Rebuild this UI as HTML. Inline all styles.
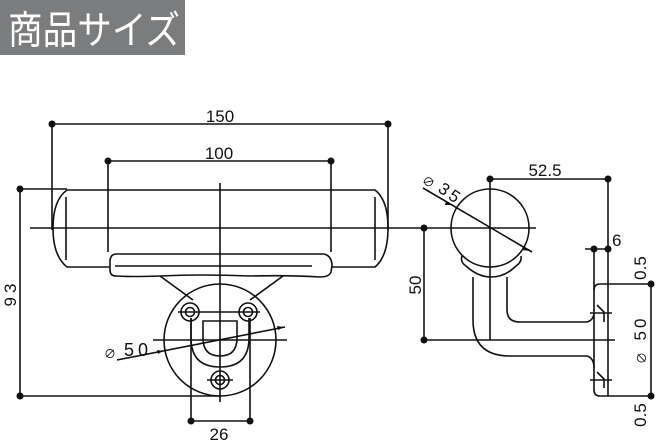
<!DOCTYPE html>
<html><head><meta charset="utf-8"><style>
html,body{margin:0;padding:0;background:#fff;}
svg{display:block;}
text{font-family:"Liberation Sans","Noto Sans CJK JP",sans-serif;fill:#111;}
</style></head><body>
<svg width="656" height="443" viewBox="0 0 656 443" xmlns="http://www.w3.org/2000/svg">
<rect x="0" y="0" width="185" height="55" fill="#7b7c7e"/>
<text x="8" y="44" font-size="39" fill="#fff" style="fill:#fff" textLength="172" lengthAdjust="spacingAndGlyphs">商品サイズ</text>

<g stroke="#111" stroke-width="1.6" fill="none">
<line x1="52" y1="124" x2="388" y2="124"/>
<line x1="52" y1="124" x2="52" y2="230"/>
<line x1="388" y1="124" x2="388" y2="230"/>
<line x1="108" y1="161" x2="331" y2="161"/>
<line x1="108" y1="161" x2="108" y2="252"/>
<line x1="331" y1="161" x2="331" y2="252"/>
<path d="M67 190 L375 190 Q388 200 388 228 Q388 256 375 267 L331 267 M110 267 L67 267 Q53 256 53 228 Q53 200 67 190"/>
<line x1="66" y1="197" x2="66" y2="260"/>
<line x1="375" y1="197" x2="375" y2="260"/>
<line x1="30" y1="228" x2="400" y2="228"/>
<line x1="220" y1="183" x2="220" y2="340"/>
<line x1="220" y1="340" x2="220" y2="402"/>
<line x1="20" y1="189" x2="20" y2="396"/>
<line x1="20" y1="189" x2="67" y2="189"/>
<line x1="20" y1="396" x2="220" y2="396"/>
<path d="M116 254 L324 254 Q332 256 332 266 L331 272 Q329 277 320 277 Q290 275 250 276 Q200 274 160 276 Q130 277 116 276 Q110 276 110 270 L110 260 Q111 254 116 254 Z"/>
<line x1="115" y1="266" x2="312" y2="266"/>
<path d="M160 276 L193 300 M283 276 L250 300"/>
<circle cx="220" cy="340" r="56"/>
<circle cx="190" cy="312" r="9"/><circle cx="190" cy="312" r="4.5"/>
<circle cx="248" cy="312" r="9"/><circle cx="248" cy="312" r="4.5"/>
<circle cx="220" cy="380" r="9"/><circle cx="220" cy="380" r="4.5"/>
<line x1="178" y1="312" x2="260" y2="312"/>
<line x1="207" y1="380" x2="233" y2="380"/>
<path d="M191 318 L191 338 Q191 367 220 367 Q249 367 249 338 L249 318"/>
<path d="M203 321 L203 338 Q203 356 220 356 Q237 356 237 338 L237 321 Z"/>
<line x1="153" y1="340" x2="287" y2="340"/>
<line x1="117" y1="360" x2="285" y2="327"/>
<line x1="191" y1="318" x2="191" y2="421"/>
<line x1="250" y1="318" x2="250" y2="421"/>
<line x1="191" y1="421" x2="250" y2="421"/>

<circle cx="490" cy="228" r="39"/>
<path d="M462 256 Q460 262 466 266 Q478 277 491 277 Q505 277 516 266 Q522 262 521 256"/>
<line x1="490" y1="178" x2="490" y2="340"/>
<line x1="400" y1="228" x2="536" y2="228"/>
<line x1="490" y1="179" x2="608" y2="179"/>
<line x1="608" y1="179" x2="608" y2="396"/>
<line x1="585" y1="249" x2="608" y2="249"/>
<line x1="594" y1="249" x2="594" y2="290"/>
<line x1="424" y1="228" x2="424" y2="340"/>
<line x1="424" y1="340" x2="615" y2="340"/>
<path d="M473 277 L473 320 Q473 356 510 356 L587 356 Q594 358 594 368"/>
<path d="M507 277 L507 310 Q507 322 520 322 L587 322 Q594 320 594 312"/>
<path d="M600 284 L652 284 M600 396 L652 396 M600 284 Q594 284 594 290 L594 390 Q594 396 600 396"/>
<line x1="651" y1="284" x2="651" y2="396"/>
<path d="M597 305 L604 312 L604 322 M597 372 L604 379 L604 388"/>
<line x1="590" y1="313" x2="612" y2="313"/>
<line x1="590" y1="380" x2="612" y2="380"/>
<line x1="423" y1="188" x2="532" y2="252"/>
</g>
<g fill="#111">
<circle cx="52" cy="124" r="3.5"/><circle cx="388" cy="124" r="3.5"/>
<circle cx="108" cy="161" r="3.5"/><circle cx="331" cy="161" r="3.5"/>
<circle cx="20" cy="189" r="3.5"/><circle cx="20" cy="396" r="3.5"/>
<circle cx="191" cy="421" r="3.5"/><circle cx="250" cy="421" r="3.5"/>
<circle cx="490" cy="179" r="3.5"/><circle cx="608" cy="179" r="3.5"/>
<circle cx="594" cy="249" r="3.5"/><circle cx="608" cy="249" r="3.5"/>
<circle cx="424" cy="228" r="3.5"/><circle cx="424" cy="340" r="3.5"/>
<circle cx="651" cy="284" r="3.5"/><circle cx="651" cy="396" r="3.5"/>
<path d="M163 351 l-6 -1 l1 4 z"/><path d="M284 327 l-7 -1 l1 4 z"/>
<path d="M452 205 l-6 -4 l-1 4 z"/><path d="M530 251 l-7 -5 l-1 4 z"/>
</g>
<g font-size="17">
<text x="220" y="122" text-anchor="middle">150</text>
<text x="219" y="159" text-anchor="middle">100</text>
<text x="219" y="440" text-anchor="middle">26</text>
<text x="124" y="356" font-size="18" letter-spacing="4">50</text>
<text x="104" y="358" font-size="12">∅</text>
<text transform="translate(16,293) rotate(-90)" text-anchor="middle" letter-spacing="4">93</text>
<text x="545" y="176" text-anchor="middle">52.5</text>
<text x="612" y="246">6</text>
<text transform="translate(421,285) rotate(-90)" text-anchor="middle">50</text>
<text transform="translate(646,268) rotate(-90)" text-anchor="middle">0.5</text>
<text transform="translate(646,328) rotate(-90)" text-anchor="middle" letter-spacing="3">50</text>
<text transform="translate(646,358) rotate(-90)" text-anchor="middle" font-size="12">∅</text>
<text transform="translate(646,415) rotate(-90)" text-anchor="middle">0.5</text>
<text transform="translate(421,182) rotate(35)" font-size="12">∅</text>
<text transform="translate(437,191) rotate(35)" letter-spacing="3">35</text>
</g>
</svg>
</body></html>
